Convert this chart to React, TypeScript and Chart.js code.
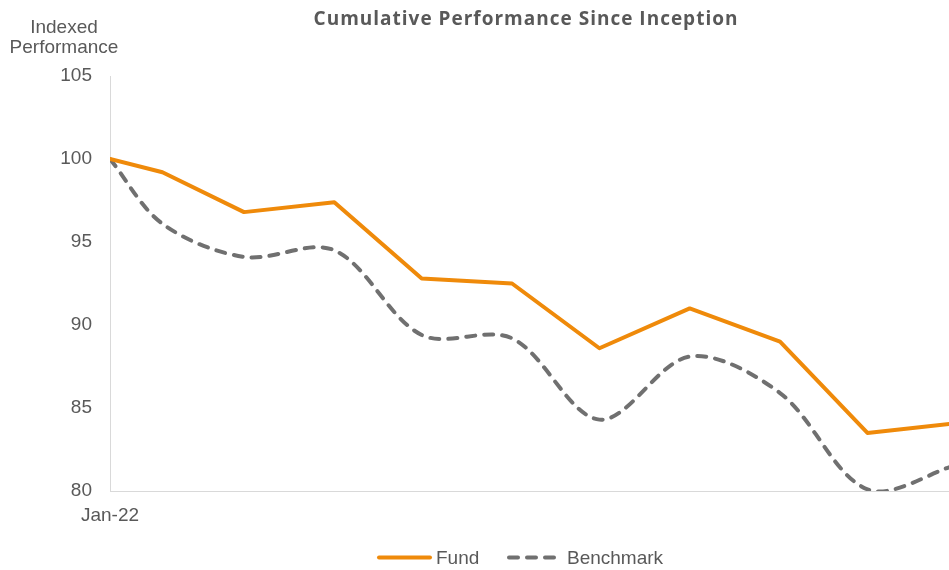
import React, { useEffect, useRef } from "react";
import { Chart, registerables } from "chart.js";

Chart.register(...registerables);

const chartTitle = "Cumulative Performance Since Inception";
const yAxisTitle = ["Indexed", "Performance"];
const seriesNames = ["Fund", "Benchmark"];
const dates = [
  "2022-01-13",
  "2022-01-31",
  "2022-02-28",
  "2022-03-31",
  "2022-04-30",
  "2022-05-31",
  "2022-06-30",
  "2022-07-31",
  "2022-08-31",
  "2022-09-30",
  "2022-10-31",
];
const fund = [100.0, 99.2, 96.8, 97.4, 92.8, 92.5, 88.6, 91.0, 89.0, 83.5, 84.1];
const benchmark = [100.0, 96.1, 94.1, 94.5, 89.4, 89.2, 84.3, 88.1, 85.9, 80.1, 81.6];
const xTickLabels = ["Jan-22"];
const yMin = 80;
const yMax = 105;
const yStep = 5;
const xEndDate = "2022-10-28";

const FUND_COLOR = "#EF8A0A";
const BENCH_COLOR = "#707070";
const TEXT_COLOR = "#595959";
const AXIS_COLOR = "#D9D9D9";
const FONT = "'Liberation Sans', Arial, sans-serif";

const dayOffset = (d: string) =>
  Math.round((Date.parse(d + "T00:00:00Z") - Date.parse(dates[0] + "T00:00:00Z")) / 86400000);

const overlayPlugin = {
  id: "overlay",
  afterDraw(chart: any) {
    const ctx = chart.ctx;
    ctx.save();
    // Title
    ctx.fillStyle = TEXT_COLOR;
    ctx.font = "bold 19px 'Open Sans', sans-serif";
    ctx.textAlign = "center";
    ctx.textBaseline = "middle";
    (ctx as any).letterSpacing = "1px";
    ctx.fillText(chartTitle, 526, 20);
    (ctx as any).letterSpacing = "0px";
    // Y axis title
    ctx.font = "19px " + FONT;
    ctx.fillText(yAxisTitle[0], 64, 28);
    ctx.fillText(yAxisTitle[1], 64, 48);
    // Legend
    const ly = 557.5;
    ctx.lineCap = "round";
    ctx.lineWidth = 4;
    ctx.strokeStyle = FUND_COLOR;
    ctx.beginPath();
    ctx.moveTo(379, ly);
    ctx.lineTo(430, ly);
    ctx.stroke();
    ctx.strokeStyle = BENCH_COLOR;
    ctx.setLineDash([9, 9]);
    ctx.beginPath();
    ctx.moveTo(509, ly);
    ctx.lineTo(556, ly);
    ctx.stroke();
    ctx.setLineDash([]);
    ctx.textAlign = "left";
    ctx.fillStyle = TEXT_COLOR;
    ctx.fillText(seriesNames[0], 436, ly + 1);
    ctx.fillText(seriesNames[1], 567, ly + 1);
    ctx.restore();
  },
};

export default function App() {
  const ref = useRef<HTMLCanvasElement | null>(null);
  useEffect(() => {
    if (!ref.current) return;
    const xs = dates.map(dayOffset);
    const chart = new Chart(ref.current, {
      type: "line",
      data: {
        datasets: [
          {
            label: seriesNames[0],
            data: xs.map((x, i) => ({ x, y: fund[i] })),
            borderColor: FUND_COLOR,
            borderWidth: 4,
            pointRadius: 0,
            tension: 0,
            borderJoinStyle: "round",
            borderCapStyle: "round",
          },
          {
            label: seriesNames[1],
            data: xs.map((x, i) => ({ x, y: benchmark[i] })),
            borderColor: BENCH_COLOR,
            borderWidth: 4,
            borderDash: [9, 9],
            borderCapStyle: "round",
            pointRadius: 0,
            tension: 0.33,
          },
        ],
      },
      options: {
        responsive: false,
        animation: false,
        layout: { padding: { top: 76, right: 0, bottom: 39, left: 0 } },
        plugins: {
          legend: { display: false },
          title: { display: false },
          tooltip: { enabled: false },
        },
        scales: {
          x: {
            type: "linear",
            min: 0,
            max: dayOffset(xEndDate),
            grid: { display: false, drawTicks: false },
            border: { color: AXIS_COLOR, width: 1 },
            afterBuildTicks: (scale: any) => {
              scale.ticks = [{ value: 0 }];
            },
            afterFit: (scale: any) => {
              scale.height = 40;
            },
            ticks: {
              autoSkip: false,
              maxRotation: 0,
              padding: 13,
              color: TEXT_COLOR,
              font: { family: FONT, size: 19 },
              callback: (v: any) => (v === 0 ? xTickLabels[0] : ""),
            },
          },
          y: {
            min: yMin,
            max: yMax,
            grid: { display: false, drawTicks: false },
            border: { color: AXIS_COLOR, width: 1 },
            afterFit: (scale: any) => {
              scale.width = 110;
            },
            ticks: {
              stepSize: yStep,
              padding: 18,
              color: TEXT_COLOR,
              font: { family: FONT, size: 19 },
            },
          },
        },
      },
      plugins: [overlayPlugin],
    } as any);
    return () => chart.destroy();
  }, []);
  return (
    <div style={{ position: "absolute", left: 0, top: 0, width: 949, height: 570, background: "#fff" }}>
      <canvas ref={ref} width={949} height={570} />
    </div>
  );
}
